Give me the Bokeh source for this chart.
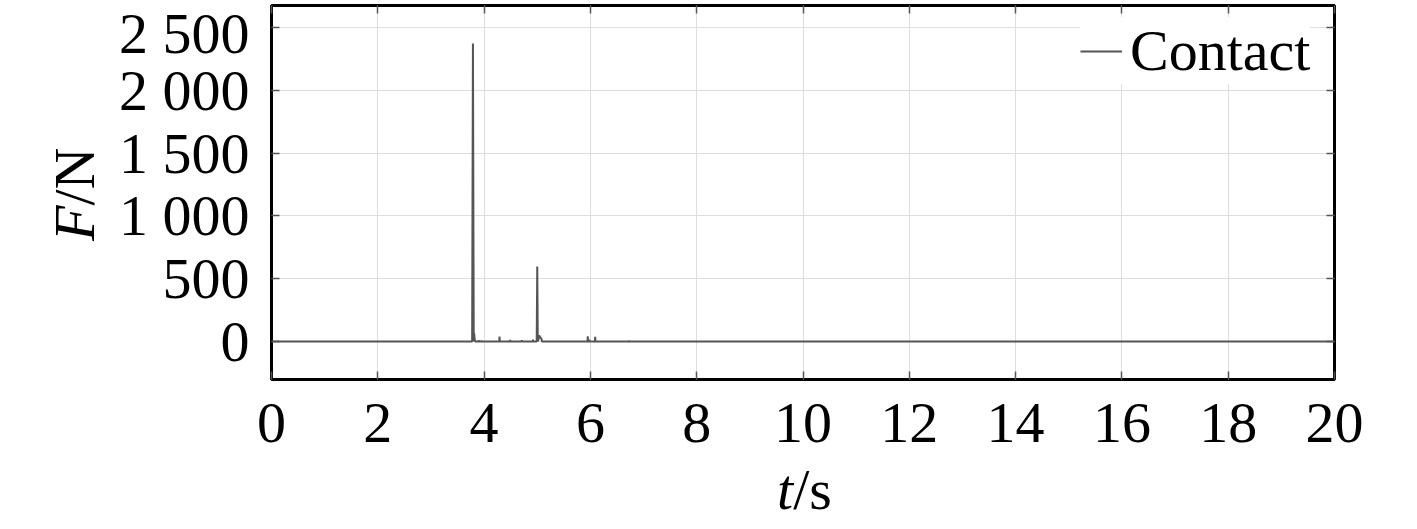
from bokeh.plotting import figure
from bokeh.models import (ColumnDataSource, FixedTicker, LinearAxis, Range1d,
                          Legend, LegendItem, Grid, Div)
from bokeh.layouts import row, column
from bokeh.embed import file_html
from bokeh.resources import INLINE

# ---- data ----
time_s = [0.0, 3.775, 3.79, 3.805, 3.812, 3.82, 3.83, 3.895, 3.90, 3.905,
          3.945, 3.95, 3.955, 4.075, 4.08, 4.085, 4.285, 4.29, 4.295,
          4.485, 4.49, 4.495, 4.705, 4.71, 4.715, 4.915, 4.92, 4.925,
          4.99, 5.00, 5.01, 5.02, 5.035, 5.08, 5.09, 5.1,
          5.945, 5.95, 5.955, 5.975, 5.98, 5.985, 6.085, 6.09, 6.095,
          6.725, 6.73, 6.735, 20.0]
force_N = [0, 0, 2374, 0, 66, 30, 0, 0, 10, 0,
           0, 8, 0, 0, 5, 0, 0, 40, 0,
           0, 12, 0, 0, 10, 0, 0, 15, 0,
           0, 598, 0, 10, 48, 20, 0, 0,
           0, 42, 0, 0, 15, 0, 0, 38, 0,
           0, 8, 0, 0]
series_name = "Contact"
x_ticks = [0, 2, 4, 6, 8, 10, 12, 14, 16, 18, 20]
y_ticks = [0, 500, 1000, 1500, 2000, 2500]
y_tick_labels = ["0", "500", "1 000", "1 500", "2 000", "2 500"]
x_title = ("t", "/s")
y_title = ("F", "/N")

FONT = "Liberation Serif"
FS = "58px"

src = ColumnDataSource(dict(t=time_s, f=force_N))

YW = 100          # width of the y-title strip
PH = 467          # figure height
XH = 513 - PH     # height of the x-title strip

p = figure(width=1401 - YW, height=PH, output_backend="svg", toolbar_location=None,
           x_range=Range1d(0, 20), y_range=Range1d(-303, 2677),
           min_border_left=271 - YW, min_border_right=1401 - 1334,
           min_border_top=5, min_border_bottom=PH - 379,
           x_axis_type=None, y_axis_type=None, margin=0)

p.outline_line_color = "black"
p.outline_line_width = 3
p.background_fill_color = "white"
p.border_fill_color = "white"

def style_axis(ax, labels=True):
    ax.axis_line_color = None
    ax.major_tick_in = 8
    ax.major_tick_out = 0
    ax.major_tick_line_color = "#555555"
    ax.major_tick_line_width = 1.5
    ax.minor_tick_line_color = None
    ax.major_label_text_font = FONT
    ax.major_label_text_color = "black"
    if labels:
        ax.major_label_text_font_size = FS
    else:
        ax.major_label_text_font_size = "0px"
        ax.major_label_standoff = 0

xb = LinearAxis(ticker=FixedTicker(ticks=x_ticks))
style_axis(xb)
xb.major_label_standoff = 24
p.add_layout(xb, "below")

yl = LinearAxis(ticker=FixedTicker(ticks=y_ticks))
style_axis(yl)
yl.major_label_standoff = 22
yl.major_label_overrides = {v: s for v, s in zip(y_ticks, y_tick_labels)}
p.add_layout(yl, "left")

xa = LinearAxis(ticker=FixedTicker(ticks=x_ticks))
style_axis(xa, labels=False)
p.add_layout(xa, "above")
yr = LinearAxis(ticker=FixedTicker(ticks=y_ticks))
style_axis(yr, labels=False)
p.add_layout(yr, "right")

for dim, tk in ((0, x_ticks), (1, y_ticks)):
    g = Grid(dimension=dim, ticker=FixedTicker(ticks=tk))
    g.grid_line_color = "#dedede"
    g.grid_line_width = 1
    p.add_layout(g)

r = p.line("t", "f", source=src, line_color="#555555", line_width=2)

legend = Legend(items=[LegendItem(label=series_name, renderers=[r])],
                location=(809, 295))
legend.label_text_font = FONT
legend.label_text_font_size = FS
legend.label_text_color = "black"
legend.border_line_color = None
legend.background_fill_color = "white"
legend.background_fill_alpha = 1
legend.glyph_width = 42
legend.label_standoff = 8
legend.margin = 0
legend.padding = 12
p.add_layout(legend)

# axis titles (italic symbol + upright unit) as HTML text
ydiv = Div(width=YW, height=513, margin=0,
           text=('<div style="width:220px;height:58px;line-height:58px;'
                 'white-space:nowrap;font-family:\'Liberation Serif\';font-size:58px;'
                 'color:black;transform-origin:0 0;'
                 'transform:translate(46px,241px) rotate(-90deg);">'
                 f'<i>{y_title[0]}</i>{y_title[1]}</div>'))
xdiv = Div(width=1401 - YW, height=XH, margin=0,
           text=('<div style="position:relative;top:-6px;height:58px;line-height:58px;'
                 'white-space:nowrap;font-family:\'Liberation Serif\';font-size:58px;'
                 f'color:black;padding-left:{777 - YW}px;">'
                 f'<i>{x_title[0]}</i>{x_title[1]}</div>'))

layout = row(ydiv, column(p, xdiv, spacing=0, margin=0), spacing=0, margin=0)

open("out.html", "w").write(file_html(layout, INLINE))
